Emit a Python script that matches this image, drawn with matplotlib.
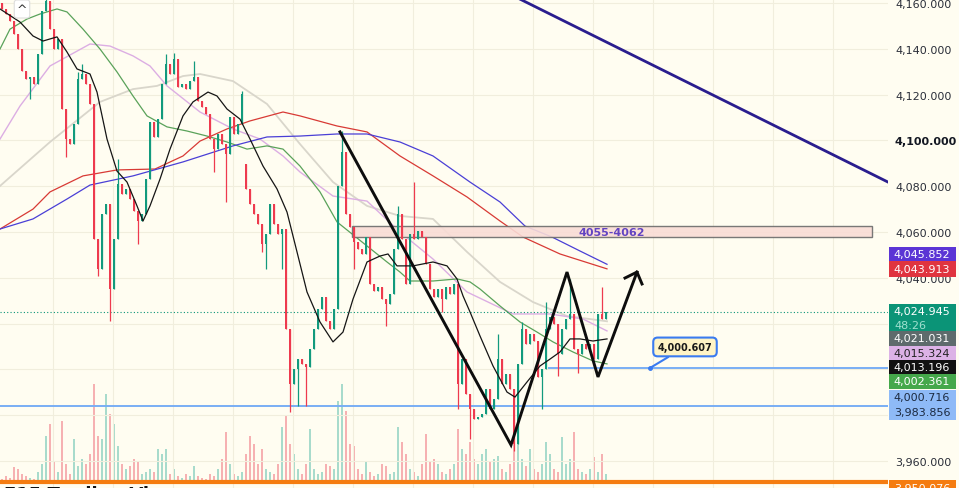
import matplotlib
matplotlib.use("Agg")
import matplotlib.pyplot as plt
from matplotlib.patches import Rectangle

# =========================
# Data
# =========================
closes = [
    4157.4, 4155.2, 4152.1, 4146.5, 4139.9, 4130.3, 4126.8, 4127.7, 4124.6, 4137.7,
    4156.5, 4160.9, 4148.6, 4139.9, 4144.3, 4113.7, 4100.6, 4098.4, 4107.2, 4126.8,
    4129.0, 4124.6, 4115.9, 4056.9, 4043.8, 4067.9, 4072.2, 4035.1, 4056.9, 4081.0,
    4076.6, 4078.8, 4074.4, 4069.2, 4064.8, 4067.9, 4083.1, 4108.0, 4101.5, 4109.3,
    4124.6, 4133.4, 4129.0, 4135.5, 4123.3, 4124.6, 4122.4, 4125.9, 4127.7, 4117.2,
    4114.6, 4111.5, 4100.6, 4096.2, 4102.8, 4098.4, 4094.1, 4110.2, 4102.8, 4107.2,
    4120.3, 4078.8, 4072.2, 4067.9, 4063.5, 4054.8, 4059.1, 4072.2, 4063.5, 4059.1,
    4061.3, 4017.6, 3993.6, 4000.2, 4004.5, 4002.4, 4001.0, 4008.9, 4017.6, 4026.4,
    4031.6, 4021.1, 4017.6, 4026.4, 4080.0, 4095.0, 4067.9, 4062.2, 4055.6, 4052.6,
    4050.4, 4057.8, 4037.3, 4034.2, 4036.0, 4030.7, 4028.6, 4032.9, 4052.6, 4067.9,
    4056.9, 4037.3, 4059.1, 4056.9, 4060.4, 4057.8, 4046.0, 4035.1, 4031.6, 4035.1,
    4030.7, 4036.0, 4032.9, 4037.3, 3993.6, 4004.5, 3989.3, 3982.7, 3978.3, 3979.2,
    3980.5, 3991.4, 3982.7, 3987.1, 4004.5, 3993.6, 3998.0, 3991.4, 3967.4, 4002.4,
    4017.6, 4011.1, 4015.5, 4012.4, 3996.7, 4000.2, 4017.6, 4022.9, 4019.8, 4006.7,
    4017.6, 4022.0, 4024.2, 4008.9, 4006.7, 4011.1, 4008.9, 4011.1, 4004.5, 4024.2,
    4022.0, 4024.9,
]
first_open = 4160.0
gap_opens = {61: 4089.7}

high_idx = [11, 19, 20, 29, 41, 43, 48, 60, 85, 99, 103, 124, 130, 136, 142, 150]
high_val = [4163.5, 4130.0, 4133.4, 4091.9, 4137.7, 4138.0, 4134.7, 4121.5, 4104.1,
            4071.4, 4081.8, 4015.5, 4020.7, 4029.4, 4039.5, 4036.0]
low_idx = [7, 16, 24, 27, 34, 53, 56, 65, 66, 70, 72, 74, 76, 88, 96, 110, 114,
           117, 128, 135, 139, 144]
low_val = [4118.1, 4092.7, 4040.8, 4021.1, 4054.8, 4086.2, 4073.1, 4051.3, 4043.8,
           4043.8, 3981.4, 3984.0, 3984.0, 4043.8, 4019.0, 4025.1, 3982.7, 3969.6,
           3964.4, 3982.7, 3997.0, 3998.6]

volume = [
    5, 8, 6, 17, 15, 10, 8, 6, 5, 12, 20, 48, 60, 22, 12, 63, 20, 10, 45, 18,
    25, 20, 30, 100, 48, 45, 90, 70, 60, 38, 20, 15, 18, 25, 22, 10, 12, 15, 12, 35,
    30, 35, 10, 15, 8, 6, 10, 8, 18, 8, 6, 5, 10, 8, 15, 25, 52, 20, 10, 8,
    12, 30, 48, 40, 20, 35, 15, 12, 10, 20, 57, 68, 40, 30, 15, 10, 20, 55, 15, 10,
    12, 20, 18, 15, 83, 100, 73, 40, 38, 15, 10, 23, 12, 8, 10, 20, 18, 10, 12, 57,
    42, 30, 15, 12, 8, 20, 50, 22, 25, 20, 12, 10, 15, 20, 55, 35, 30, 42, 25, 20,
    30, 35, 22, 25, 28, 15, 12, 20, 48, 45, 25, 18, 35, 15, 12, 20, 42, 30, 15, 12,
    47, 20, 25, 52, 15, 12, 10, 15, 27, 12, 30, 10,
]

# moving averages, sampled along the lines (candle index, price)
ma_red_x = [-0.5, 7.75, 12, 20.25, 28.75, 38.25, 45.25, 49.5, 56.25, 62, 70.25, 74.5,
            83.75, 91.25, 99.5, 107.75, 116.25, 124.5, 130.25, 139.5, 151.25]
ma_red_y = [4061.3, 4070.0, 4077.5, 4084.5, 4087.1, 4087.5, 4093.2, 4099.7, 4105.0,
            4108.5, 4112.4, 4110.7, 4106.3, 4103.7, 4093.2, 4084.5, 4075.3, 4064.8,
            4057.8, 4050.4, 4043.9]
ma_blue_x = [-0.5, 7.75, 16.25, 22, 32.75, 45.25, 57.75, 66.25, 74.5, 83.75, 91.25,
             99.5, 107.75, 117, 124.5, 130.75, 137.5, 144.5, 151.25]
ma_blue_y = [4061.3, 4065.7, 4074.4, 4080.5, 4084.5, 4090.6, 4097.6, 4101.5, 4101.9,
             4102.8, 4102.8, 4099.3, 4093.2, 4081.8, 4073.1, 4062.6, 4057.8, 4051.7,
             4045.9]
ma_green_x = [-0.5, 2, 6.25, 9.5, 13.75, 16.25, 20.25, 24.5, 28.75, 32.75, 36.25,
              41.25, 46.25, 51.25, 56.25, 61.25, 66.25, 70.25, 74.5, 79.5, 83.75,
              91.25, 96.25, 99.5, 102, 107.75, 113.75, 117, 119.5, 124.5, 129.5,
              133.75, 137.75, 142.75, 147.75, 151.25]
ma_green_y = [4139.9, 4148.6, 4153.0, 4155.2, 4157.4, 4156.1, 4148.6, 4139.9, 4129.9,
              4119.4, 4110.7, 4105.9, 4104.1, 4101.9, 4099.3, 4096.2, 4097.6, 4096.2,
              4088.8, 4077.5, 4064.4, 4053.9, 4046.9, 4042.5, 4038.6, 4038.6, 4039.5,
              4038.2, 4035.1, 4027.7, 4020.7, 4016.3, 4012.0, 4007.6, 4003.7, 4002.4]
ma_pink_x = [-0.5, 4.5, 12, 22, 27, 32.75, 37, 41.25, 49.5, 57.75, 64.5, 70.25, 74.5,
             82.75, 91.25, 99.5, 107.75, 116.25, 127.75, 137, 145.25, 151.25]
ma_pink_y = [4100.6, 4115.0, 4132.5, 4142.1, 4141.2, 4136.9, 4132.5, 4123.8, 4112.4,
             4105.0, 4100.6, 4093.2, 4086.2, 4075.7, 4073.5, 4060.0, 4048.2, 4033.8,
             4024.2, 4024.2, 4022.0, 4016.8]
ma_gray_x = [-0.5, 12, 24.5, 32.75, 38.75, 45.25, 49.5, 57.75, 66.25, 74.5, 82.75,
             91.25, 99.5, 107.75, 116.25, 124.5, 132.75, 141.25, 151.25]
ma_gray_y = [4080.1, 4099.3, 4116.8, 4122.4, 4123.8, 4128.1, 4129.0, 4125.9, 4115.9,
             4098.4, 4081.8, 4071.4, 4067.0, 4065.7, 4051.3, 4038.2, 4029.4, 4023.3,
             4021.0]
ma_black_x = [-0.5, 4.5, 7.75, 10.25, 13.75, 16.25, 18.75, 22, 23.75, 26.25, 28.75,
              31.25, 33.75, 35.25, 37, 39.5, 42, 45.25, 47.75, 51.5, 53.75, 56.25,
              59.5, 62, 65.25, 68.75, 71.25, 73.75, 76.25, 79.5, 82.75, 85.25, 87.75,
              91.25, 94.5, 96.5, 98.75, 102.75, 107.75, 111.25, 113.75, 115.25, 117,
              119.5, 122.75, 126.25, 128.25, 131.25, 134.5, 137, 139.5, 142, 144.5,
              147.75, 151.25]
ma_black_y = [4157.4, 4151.7, 4145.6, 4143.4, 4145.2, 4138.6, 4131.2, 4129.0, 4121.1,
              4100.6, 4086.6, 4081.8, 4071.4, 4064.8, 4071.4, 4083.1, 4096.2, 4110.7,
              4116.8, 4121.1, 4119.4, 4113.7, 4109.3, 4100.6, 4088.8, 4078.8, 4068.7,
              4051.3, 4033.8, 4020.7, 4012.0, 4016.3, 4030.7, 4046.9, 4049.5, 4050.4,
              4045.2, 4045.2, 4046.9, 4045.2, 4039.5, 4032.1, 4025.1, 4014.6, 4001.5,
              3990.1, 3987.9, 3994.5, 4001.5, 4004.5, 4007.6, 4013.3, 4013.3, 4012.4,
              4013.3]

# drawings
zigzag_x = [84.5, 127.25, 141.25, 149, 158.75]
zigzag_y = [4103.7, 3967.0, 4042.5, 3996.7, 4042.5]
arrow_x = [155.75, 158.75, 160]
arrow_y = [4039.9, 4042.5, 4037.3]
trend_x = [129.5, 221.5]
trend_y = [4161.7, 4081.8]
zone_x = [87.5, 217.5]
zone_y = [4057.8, 4062.6]
zone_text = "4055-4062"
last_price = 4024.945
support_1 = 4000.607
support_1_start = 136.5
support_2 = 3983.856
orange_level = 3950.076

grid_ticks = [3960, 3980, 4000, 4020, 4040, 4060, 4080, 4100, 4120, 4140, 4160]
# 3980/4000/4020 sit under the price-scale labels
label_ticks = [3960, 4040, 4060, 4080, 4100, 4120, 4140, 4160]

# price-scale labels: value, box colour, text colour
scale_vals = ["4,045.852", "4,043.913", "4,024.945\n48:26", "4,021.031", "4,015.324",
              "4,013.196", "4,002.361", "4,000.716", "3,983.856", "3,950.076"]
scale_bg = ["#5b35d5", "#e0343f", "#0b9477", "#5e6b6c", "#dcb2e6",
            "#111111", "#45a84b", "#8ebaf7", "#8ebaf7", "#f57c10"]
scale_fg = ["white", "white", "white", "white", "#222222",
            "white", "white", "#1c2a40", "#1c2a40", "white"]
# layout: pixel centre / height of each stacked label
scale_ypx = [255, 270, 319, 339, 354, 368, 382, 398, 413, 489]
scale_hpx = [15, 16, 28, 15, 15, 15, 15, 15, 15, 15]

BG = "#fffdf1"
UP = "#129a7d"
DOWN = "#ee3a4e"
W, H = 959, 489
FS = 8

fig = plt.figure(figsize=(W / 100, H / 100), dpi=100, facecolor=BG)
ax_vol = fig.add_axes([0, 0, 888 / W, 1])
ax = fig.add_axes([0, 0, 888 / W, 1], sharex=ax_vol)
ax.set_zorder(ax_vol.get_zorder() + 1)
ax.patch.set_visible(False)
ax_vol.set_facecolor(BG)

n = len(closes)
idx = list(range(n))
opens = [first_open] + closes[:-1]
for k, v in gap_opens.items():
    opens[k] = v
highs = [max(o, c) for o, c in zip(opens, closes)]
lows = [min(o, c) for o, c in zip(opens, closes)]
for k, v in zip(high_idx, high_val):
    highs[k] = v
for k, v in zip(low_idx, low_val):
    lows[k] = v
colors = [UP if c >= o else DOWN for o, c in zip(opens, closes)]

# volume
vol_colors = ["#9fd8c8" if c == UP else "#f6a9ac" for c in colors]
ax_vol.bar(idx, volume, width=0.38, color=vol_colors, alpha=0.9)
ax_vol.set_ylim(-4, 485)
ax_vol.set_xlim(-0.5, 221.5)
ax_vol.axis("off")

# grid
for gx in [12.75 + 15 * k for k in range(15)]:
    ax.axvline(gx, color="#f1eedd", lw=0.8, zorder=0)
for t in grid_ticks:
    ax.axhline(t, color="#f1eedd", lw=0.8, zorder=0)

# candles
ax.vlines(idx, lows, highs, colors=colors, lw=0.9, zorder=3)
bodies = [max(abs(c - o), 0.4) for o, c in zip(opens, closes)]
ax.bar(idx, bodies, bottom=[min(o, c) for o, c in zip(opens, closes)],
       width=0.62, color=colors, zorder=3)

# moving averages
ax.plot(ma_gray_x, ma_gray_y, color="#d9d6cb", lw=1.3, zorder=2)
ax.plot(ma_pink_x, ma_pink_y, color="#dcaee3", lw=1.0, zorder=2)
ax.plot(ma_green_x, ma_green_y, color="#5aa25a", lw=0.9, zorder=2)
ax.plot(ma_red_x, ma_red_y, color="#d83a35", lw=0.9, zorder=2)
ax.plot(ma_blue_x, ma_blue_y, color="#4a3fd6", lw=0.9, zorder=2)
ax.plot(ma_black_x, ma_black_y, color="#151515", lw=0.9, zorder=4)

# levels
ax.axhline(last_price, color="#0b9477", lw=0.8, ls=(0, (1, 2)), zorder=2)
ax.axhline(support_2, color="#79aef5", lw=1.4, zorder=2)
ax.hlines(support_1, support_1_start, 221.5, color="#79aef5", lw=1.4, zorder=2)
ax.axhline(orange_level + 0.6, color="#f57c10", lw=3, zorder=5)

# zone box
ax.add_patch(Rectangle((zone_x[0], zone_y[0]), zone_x[1] - zone_x[0], zone_y[1] - zone_y[0],
                       facecolor="#f9dcd6", edgecolor="#6b6b6b", lw=1.0, alpha=0.9, zorder=2))
ax.text((zone_x[0] + zone_x[1]) / 2, (zone_y[0] + zone_y[1]) / 2, zone_text,
        ha="center", va="center", fontsize=8, fontweight="bold", color="#6344c2", zorder=6)

# trend line and drawn path
ax.plot(trend_x, trend_y, color="#2a1d8e", lw=2, zorder=5)
ax.plot(zigzag_x, zigzag_y, color="#0d0d0d", lw=2.1, zorder=6, solid_joinstyle="miter")
ax.plot(arrow_x, arrow_y, color="#0d0d0d", lw=2.1, zorder=6)

# callout
ax.annotate("4,000.607", xy=(162, support_1), xytext=(170.75, 4009.8),
            ha="center", va="center", fontsize=7, fontweight="bold", color="#1a1a1a",
            bbox=dict(boxstyle="round,pad=0.45", fc="#fff4c6", ec="#3a7bf0", lw=1.5),
            arrowprops=dict(arrowstyle="-", color="#3a7bf0", lw=1.5,
                            shrinkA=0, shrinkB=0), zorder=7)
ax.plot([162], [support_1], marker="o", ms=2.5, color="#3a7bf0", zorder=7)

ax.set_xlim(-0.5, 221.5)
ax.set_ylim(3948.2, 4161.75)
ax.set_xticks([])
ax.yaxis.tick_right()
ax.set_yticks(label_ticks)
ax.set_yticklabels([f"{t:,.3f}" for t in label_ticks])
ax.tick_params(axis="y", length=0, pad=5, labelsize=FS, labelcolor="#2a2e39")
for lab in ax.get_yticklabels():
    if lab.get_text() == "4,100.000":
        lab.set_fontweight("bold")
        lab.set_color("#131722")
for s in ax.spines.values():
    s.set_visible(False)

# stacked price-scale labels
for txt, bg, fg, ypx, hpx in zip(scale_vals, scale_bg, scale_fg, scale_ypx, scale_hpx):
    fig.patches.append(Rectangle((889 / W, 1 - (ypx + hpx / 2) / H), 67 / W, hpx / H,
                                 transform=fig.transFigure, facecolor=bg,
                                 edgecolor="none", zorder=10))
    lines = txt.split("\n")
    if len(lines) == 1:
        fig.text(922 / W, 1 - ypx / H, lines[0], ha="center", va="center",
                 fontsize=FS, color=fg, zorder=11)
    else:
        fig.text(922 / W, 1 - (ypx - 7) / H, lines[0], ha="center", va="center",
                 fontsize=FS, color=fg, zorder=11)
        fig.text(894 / W, 1 - (ypx + 7) / H, lines[1], ha="left", va="center",
                 fontsize=FS, color="#9fe0cf", zorder=11)

# collapse button and cut-off legend text
fig.text(22 / W, 1 - 10 / H, "^", ha="center", va="center", fontsize=9, color="#333333",
         bbox=dict(boxstyle="round,pad=0.2", fc="white", ec="#dddddd", lw=0.8), zorder=12)
fig.text(4 / W, -15 / H, "E15 Trading Vi", ha="left", va="bottom", fontsize=13,
         fontweight="bold", color="#111111", zorder=12)

fig.savefig("out.png", dpi=100, facecolor=BG)
